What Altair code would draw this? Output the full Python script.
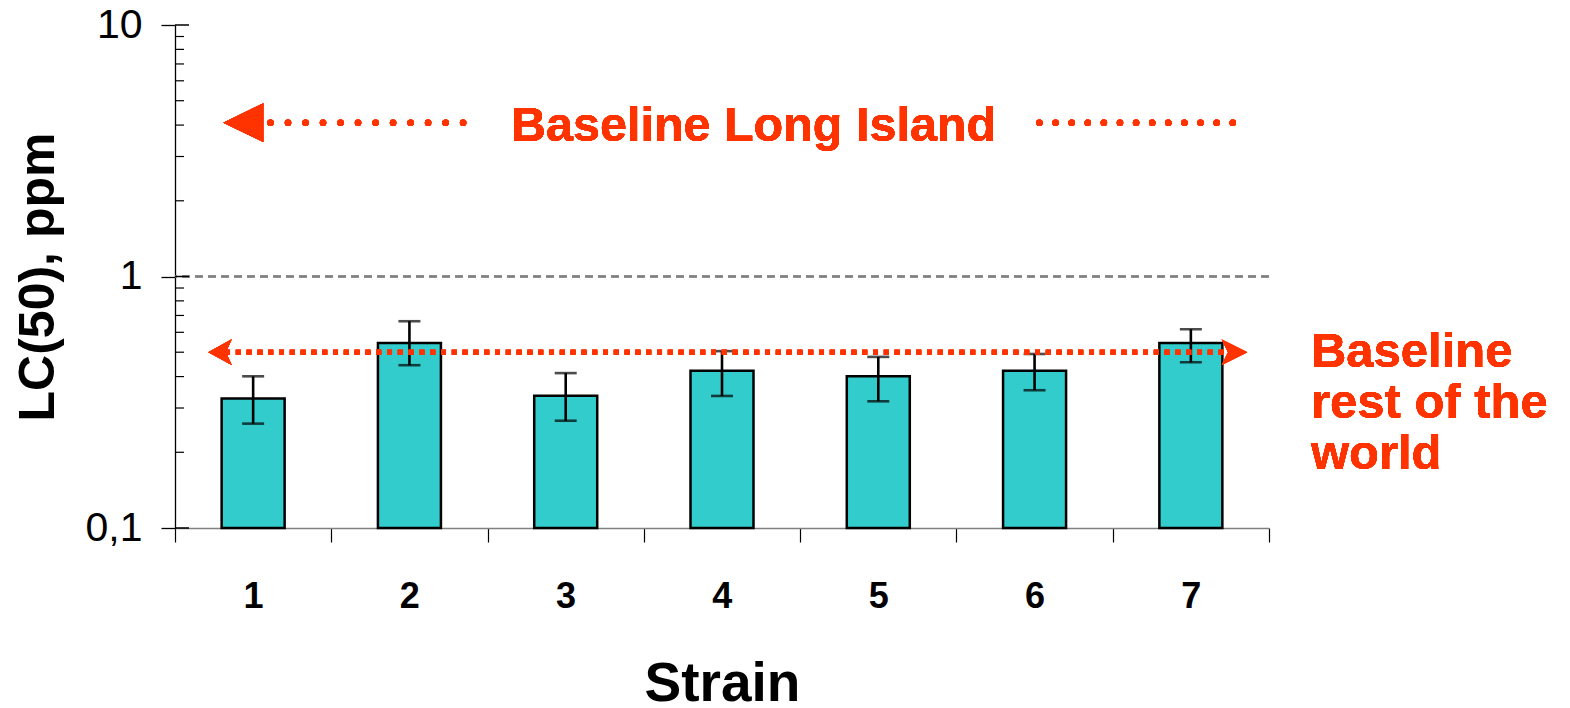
import altair as alt
import pandas as pd

# LC(50) per strain (ppm) with lower / upper error limits
strains = [1, 2, 3, 4, 5, 6, 7]
lc50 = [0.327, 0.544, 0.336, 0.422, 0.401, 0.422, 0.544]
lc50_low = [0.260, 0.444, 0.267, 0.335, 0.319, 0.353, 0.456]
lc50_high = [0.401, 0.664, 0.413, 0.505, 0.479, 0.492, 0.617]

# reference baselines (ppm)
baseline_rest_of_world = 0.5
baseline_long_island = 4.09

# axis ticks
y_major = [0.1, 1, 10]
y_minor = [0.2, 0.3, 0.4, 0.5, 0.6, 0.7, 0.8, 0.9, 2, 3, 4, 5, 6, 7, 8, 9]
strain_edges = [0.5, 1.5, 2.5, 3.5, 4.5, 5.5, 6.5, 7.5]

# annotation placement, in strain units
WORLD_HEAD_LEFT = 0.788
WORLD_HEAD_RIGHT = 7.279
WORLD_LINE = (0.82, 7.225)
WORLD_LABEL_X = 7.768
LI_HEAD = 0.937
LI_DOTS_LEFT = (1.111, 2.35)
LI_DOTS_RIGHT = (6.031, 7.275)
LI_LABEL_X = 4.202

RED = "#FF3300"
TEAL = "#33CCCC"
FONT = "Liberation Sans"

df = pd.DataFrame({"strain": strains, "lc50": lc50, "lo": lc50_low, "hi": lc50_high})
minor_df = pd.DataFrame({"tick": y_minor})
major_df = pd.DataFrame({"tick": y_major})

x_scale = alt.Scale(domain=[0.5, 7.5], nice=False, zero=False, padding=0)
y_scale = alt.Scale(type="log", domain=[0.1, 10], nice=False, padding=0)

x_axis = alt.Axis(
    values=strain_edges,
    labelExpr="datum.value < 7 ? format(datum.value + 0.5, 'd') : ''",
    labelOffset=78,
    labelFlush=False,
    labelOverlap=False,
    labelFont=FONT,
    labelFontSize=36,
    labelFontWeight="bold",
    labelColor="black",
    labelBaseline="middle",
    labelPadding=54,
    tickSize=14,
    tickColor="black",
    tickWidth=1.2,
    domainColor="#808080",
    domainWidth=1.5,
    grid=False,
    title="Strain",
    titleFont=FONT,
    titleFontSize=55,
    titleFontWeight="bold",
    titleColor="black",
    titleY=172,
    titleBaseline="alphabetic",
)

y_axis = alt.Axis(
    values=y_major,
    labelExpr="replace(format(datum.value, '~g'), '.', ',')",
    labelFont=FONT,
    labelFontSize=41,
    labelColor="black",
    labelPadding=19,
    tickSize=14,
    tickColor="black",
    tickWidth=1.3,
    domainColor="black",
    domainWidth=1.3,
    grid=False,
    title="LC(50), ppm",
    titleFont=FONT,
    titleFontSize=50,
    titleFontWeight="bold",
    titleColor="black",
    titleAngle=270,
    titleX=-122,
    titleY=251.5,
    titleAlign="center",
    titleBaseline="alphabetic",
)

X = lambda f: alt.X(f, scale=x_scale, axis=x_axis)
Y = lambda f: alt.Y(f, scale=y_scale, axis=y_axis)

# dashed reference at 1 ppm
one_line = alt.Chart(df).mark_rule(
    color="#808080", strokeWidth=1.5, strokeDash=[8, 5]
).encode(y=alt.datum(1))

bars = alt.Chart(df).mark_bar(
    size=63, fill=TEAL, stroke="black", strokeWidth=2.5
).encode(x=X("strain:Q"), y=Y("lc50:Q"), y2=alt.datum(0.1))

err_rule = alt.Chart(df).mark_rule(color="black", strokeWidth=2.6).encode(
    x=X("strain:Q"), y=Y("lo:Q"), y2="hi:Q"
)

err_caps = alt.Chart(df).transform_fold(
    ["lo", "hi"], as_=["end", "val"]
).mark_tick(orient="horizontal", size=22, thickness=2.6, color="black").encode(
    x=X("strain:Q"), y=Y("val:Q")
)

# inward minor ticks and inner half of the major ticks on the y axis
minor_ticks = alt.Chart(minor_df).mark_rule(color="black", strokeWidth=1.2).encode(
    y=Y("tick:Q"), x=alt.value(0), x2=alt.value(9)
)
major_ticks = alt.Chart(major_df).mark_rule(color="black", strokeWidth=1.5).encode(
    y=Y("tick:Q"), x=alt.value(0), x2=alt.value(14)
)

# baseline: rest of the world (square-dotted, double arrow)
world_line = alt.Chart(df).mark_rule(
    color=RED, strokeWidth=5, strokeDash=[5, 5.8]
).encode(
    x=alt.datum(WORLD_LINE[0]), x2=alt.datum(WORLD_LINE[1]),
    y=alt.datum(baseline_rest_of_world),
)
world_head_left = alt.Chart(df).mark_point(
    shape="M-1,0L1,-1.1L0.5,0L1,1.1Z", size=548, filled=True,
    color=RED, opacity=1, strokeWidth=0,
).encode(x=alt.datum(WORLD_HEAD_LEFT), y=alt.datum(baseline_rest_of_world))
world_head_right = alt.Chart(df).mark_point(
    shape="M1,0L-1,-1L-0.5,0L-1,1Z", size=655, filled=True,
    color=RED, opacity=1, strokeWidth=0,
).encode(x=alt.datum(WORLD_HEAD_RIGHT), y=alt.datum(baseline_rest_of_world))
world_label = alt.Chart(df).mark_text(
    text=["Baseline", "rest of the", "world"], align="left", baseline="alphabetic",
    dy=15, lineHeight=51, font=FONT, fontSize=49, fontWeight="bold", color=RED,
).encode(x=alt.datum(WORLD_LABEL_X), y=alt.datum(baseline_rest_of_world))

# baseline: Long Island (round-dotted, left arrow)
li_head = alt.Chart(df).mark_point(
    shape="M-1,0L1,-0.97L1,0.97Z", size=1600, filled=True,
    color=RED, opacity=1, strokeWidth=0,
).encode(x=alt.datum(LI_HEAD), y=alt.datum(baseline_long_island))
li_dots_left = alt.Chart(df).mark_rule(
    color=RED, strokeWidth=6.5, strokeCap="round", strokeDash=[0.01, 17.5]
).encode(
    x=alt.datum(LI_DOTS_LEFT[0]), x2=alt.datum(LI_DOTS_LEFT[1]),
    y=alt.datum(baseline_long_island),
)
li_dots_right = alt.Chart(df).mark_rule(
    color=RED, strokeWidth=6.5, strokeCap="round", strokeDash=[0.01, 16.1]
).encode(
    x=alt.datum(LI_DOTS_RIGHT[0]), x2=alt.datum(LI_DOTS_RIGHT[1]),
    y=alt.datum(baseline_long_island),
)
li_label = alt.Chart(df).mark_text(
    text="Baseline Long Island", align="center", baseline="middle", dy=3,
    font=FONT, fontSize=48.5, fontWeight="bold", color=RED,
).encode(x=alt.datum(LI_LABEL_X), y=alt.datum(baseline_long_island))

chart = alt.layer(
    one_line, bars, err_rule, err_caps, minor_ticks, major_ticks,
    world_line, world_head_left, world_head_right, world_label,
    li_head, li_dots_left, li_dots_right, li_label,
).properties(
    width=1094,
    height=503,
    padding={"left": 175, "top": 25, "right": 301, "bottom": 180},
    autosize=alt.AutoSizeParams(type="none"),
    background="white",
).configure_view(stroke=None)

chart.save("out.html", embed_options={"renderer": "svg", "actions": False})
